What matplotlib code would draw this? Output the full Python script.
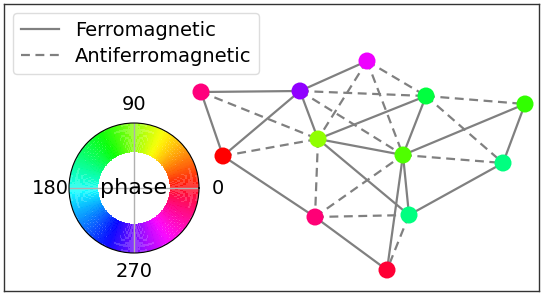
import numpy as np
import matplotlib
matplotlib.use("Agg")
import matplotlib.pyplot as plt
from matplotlib.lines import Line2D

# node data (layout positions in pixel-like units, phase in degrees)
names = ["A", "B", "C", "D", "E", "F", "G", "H", "I", "J", "K", "L"]
node_x = [201, 300, 367, 223, 318, 426, 525, 403, 503, 315, 409, 387]
node_y = [93, 92, 62, 157, 140, 97, 105, 156, 164, 218, 216, 271]
phase = [336, 278, 300, 0, 88, 137, 110, 104, 152, 337, 152, 352]

ferro_edges = [("A", "B"), ("A", "D"), ("B", "D"), ("B", "E"), ("B", "C"),
               ("E", "F"), ("E", "H"), ("E", "K"), ("D", "J"), ("F", "H"),
               ("G", "H"), ("G", "I"), ("H", "K"), ("H", "L"), ("I", "K"),
               ("J", "L")]
anti_edges = [("A", "E"), ("B", "F"), ("B", "H"), ("C", "E"), ("C", "H"),
              ("C", "F"), ("D", "E"), ("E", "J"), ("F", "G"), ("F", "I"),
              ("H", "I"), ("J", "H"), ("J", "K"), ("K", "L")]

wheel_labels = ["0", "90", "180", "270"]
wheel_angles = [0, 90, 180, 270]

W, H = 541, 296
fig = plt.figure(figsize=(W / 100, H / 100), dpi=100)
ax = fig.add_axes([4 / W, 5 / H, 535 / W, 287 / H])
ax.set_xlim(4, 539)
ax.set_ylim(292, 5)
ax.set_xticks([])
ax.set_yticks([])
for s in ax.spines.values():
    s.set_linewidth(1.0)
    s.set_color("#333333")

idx = {n: i for i, n in enumerate(names)}
ecol = "#808080"
for a, b in ferro_edges:
    i, j = idx[a], idx[b]
    ax.plot([node_x[i], node_x[j]], [node_y[i], node_y[j]], color=ecol,
            lw=1.6, solid_capstyle="butt", zorder=1)
for a, b in anti_edges:
    i, j = idx[a], idx[b]
    ax.plot([node_x[i], node_x[j]], [node_y[i], node_y[j]], color=ecol,
            lw=1.6, ls=(0, (4, 2.5)), zorder=1)

cmap = plt.get_cmap("hsv")
cols = [cmap((p % 360) / 360) for p in phase]
ax.scatter(node_x, node_y, s=150, c=cols, edgecolors="none", zorder=3)

handles = [Line2D([0], [0], color=ecol, lw=1.6, ls="-"),
           Line2D([0], [0], color=ecol, lw=1.6, ls=(0, (4, 2.5)))]
ax.legend(handles, ["Ferromagnetic", "Antiferromagnetic"], loc="upper left",
          fontsize=14, handlelength=2.0, borderaxespad=0.45, framealpha=1,
          edgecolor="#dddddd", borderpad=0.4, labelspacing=0.4)

# phase colour wheel
cx, cy, R = 134, 188, 65
pax = fig.add_axes([(cx - R) / W, (H - cy - R) / H, 2 * R / W, 2 * R / H],
                   projection="polar")
th = np.linspace(0, 2 * np.pi, 361)
rr = np.linspace(0.55, 1.0, 12)
T, Rg = np.meshgrid(th, rr)
pax.pcolormesh(T, Rg, np.degrees(T)[:-1, :-1], cmap="hsv", vmin=0, vmax=360,
               alpha=0.78, shading="flat", rasterized=True)
pax.set_ylim(0, 1)
pax.set_yticks([])
pax.set_xticks(np.radians(wheel_angles))
pax.set_xticklabels(wheel_labels, fontsize=14)
pax.tick_params(axis="x", pad=3)
pax.grid(True, color="#b0b0b0", lw=1)
pax.spines["polar"].set_linewidth(0.8)
pax.text(0, 0, "phase", ha="center", va="center", fontsize=16, zorder=5)

fig.savefig("out.png", dpi=100)
